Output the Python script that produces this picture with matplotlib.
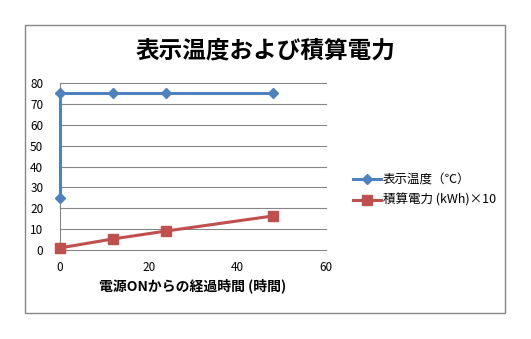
import matplotlib.pyplot as plt
from matplotlib.patches import Rectangle

plt.rcParams['font.family'] = ['Noto Sans CJK JP', 'DejaVu Sans']

# 経過時間 (h) と各系列
temp_hours = [0, 0, 12, 24, 48]
temp_values = [25, 75, 75, 75, 75]
power_hours = [0, 12, 24, 48]
power_values = [1, 5.3, 9.1, 16.3]

title = "表示温度および積算電力"
xlabel = "電源ONからの経過時間 (時間)"
temp_label = "表示温度（℃）"
power_label = "積算電力 (kWh)×10"

BLUE = "#4F81BD"
RED = "#C0504D"

fig = plt.figure(figsize=(5.31, 3.39), dpi=100)
W, H = 531, 339

# 外枠
fig.patches.append(Rectangle((25 / W, 1 - 313 / H), 480 / W, 288 / H,
                             transform=fig.transFigure, fill=False,
                             edgecolor="#868686", linewidth=1.0))

ax = fig.add_axes([60 / W, 1 - 250 / H, 266 / W, 167 / H])
ax.set_xlim(0, 60)
ax.set_ylim(0, 80)
ax.set_xticks([0, 20, 40, 60])
ax.set_yticks(range(0, 81, 10))

ax.yaxis.grid(True, color="#868686", linewidth=0.8)
for gl in ax.get_ygridlines():
    gl.set_clip_on(False)
ax.set_axisbelow(True)
for s in ["top", "right", "bottom"]:
    ax.spines[s].set_visible(False)
ax.spines["left"].set_color("#868686")
ax.spines["left"].set_bounds(-1, 80)
ax.spines["left"].set_zorder(0.5)
ax.tick_params(length=0, labelsize=8.5, colors="black")
ax.tick_params(axis="y", pad=12)
ax.tick_params(axis="x", pad=8)

ax.plot(temp_hours, temp_values, color=BLUE, linewidth=2.2, marker="D",
        markersize=5.5, clip_on=False, label=temp_label, zorder=3)
ax.plot(power_hours, power_values, color=RED, linewidth=2.2, marker="s",
        markersize=7, clip_on=False, label=power_label, zorder=3)

ax.set_xlabel(xlabel, fontsize=10, fontweight="bold", labelpad=3)

fig.text(0.5, 1 - 50 / H, title, ha="center", va="center",
         fontsize=17, fontweight="bold")

ax.legend(loc="center left", bbox_to_anchor=(348 / W, 1 - 190 / H),
          bbox_transform=fig.transFigure, frameon=False, fontsize=9,
          handlelength=2.2, handletextpad=0.2, labelspacing=0.6,
          borderaxespad=0)

fig.savefig("out.png", dpi=100)
